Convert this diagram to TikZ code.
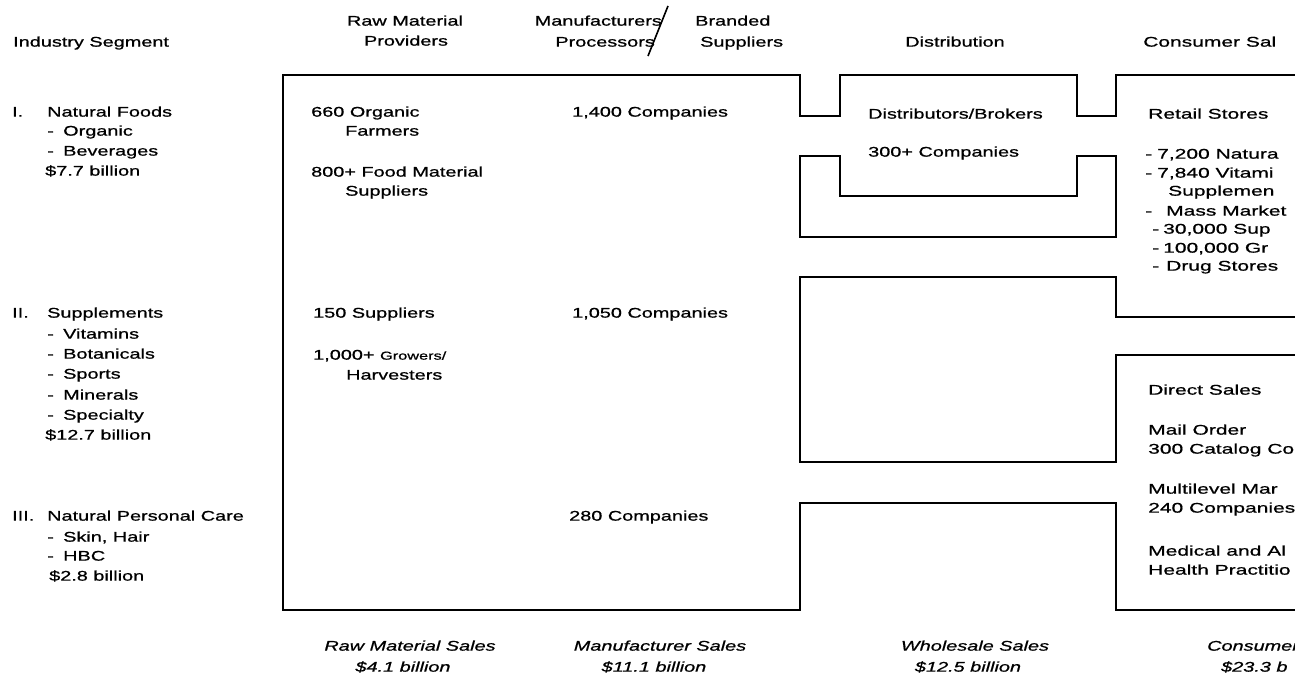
\documentclass[tikz,border=0pt]{standalone}
\usepackage{fontspec}
\setmainfont{Liberation Sans}[FakeStretch=1.42, FakeBold=0.8]
\newfontfamily\rightfont{Liberation Sans}[FakeStretch=1.5, FakeBold=0.8]
\begin{document}
\begin{tikzpicture}[x=1pt,y=-1pt,
  txt/.style={anchor=mid west, inner sep=0pt, font=\fontsize{14}{16}\selectfont},
  rtxt/.style={anchor=mid west, inner sep=0pt, font=\rightfont\fontsize{14}{16}\selectfont},
  txtc/.style={anchor=mid, inner sep=0pt, font=\fontsize{14}{16}\selectfont},
  txte/.style={anchor=mid east, inner sep=0pt, font=\fontsize{14}{16}\selectfont},
  ital/.style={anchor=mid, inner sep=0pt, font=\fontsize{14}{16}\selectfont\itshape},
  italw/.style={anchor=mid west, inner sep=0pt, font=\fontsize{14}{16}\selectfont\itshape},
  outline/.style={draw=black, line width=1.8pt, line join=miter}]
\useasboundingbox (0,0) rectangle (1295,678);
\clip (0,0) rectangle (1295,678);

% ---------- outlines ----------
\draw[outline] (1300,75) -- (1116,75) -- (1116,116) -- (1077,116) -- (1077,75)
  -- (840,75) -- (840,116) -- (800,116) -- (800,75) -- (283,75) -- (283,610)
  -- (800,610) -- (800,503) -- (1116,503) -- (1116,610) -- (1300,610);
\draw[outline] (800,156) -- (840,156) -- (840,196) -- (1077,196) -- (1077,156)
  -- (1116,156) -- (1116,237) -- (800,237) -- cycle;
\draw[outline] (1300,317) -- (1116,317) -- (1116,277) -- (800,277) -- (800,462)
  -- (1116,462) -- (1116,355) -- (1300,355);

% ---------- headers ----------
\node[txt] (hSeg) at (13,44) {Industry Segment};
\node[txtc] (hRaw1) at (405,23) {Raw Material};
\node[txtc] (hRaw2) at (406,43) {Providers};
\node[txte] (hMan1) at (662,23) {Manufacturers};
\node[txte] (hMan2) at (655,44) {Processors};
\coordinate (slashTop) at (668,6);
\coordinate (slashBot) at (648,56);
\draw[line width=1.6pt] (slashTop) -- (slashBot);
\node[txt] (hBr1) at (695,23) {Branded};
\node[txt] (hBr2) at (700,44) {Suppliers};
\node[txtc] (hDist) at (955,44) {Distribution};
\node[rtxt] (hCons) at (1143,44) {Consumer Sal};

% ---------- segment I ----------
\node[txt] (s1n) at (12,114) {I.};
\node[txt] (s1t) at (47,114) {Natural Foods};
\node[txt] (s1d1) at (47,133) {-};
\node[txt] (s1a) at (63,133) {Organic};
\node[txt] (s1d2) at (47,153) {-};
\node[txt] (s1b) at (63,153) {Beverages};
\node[txt] (s1v) at (45,173) {\$7.7 billion};

% ---------- segment II ----------
\node[txt] (s2n) at (12,315) {II.};
\node[txt] (s2t) at (47,315) {Supplements};
\node[txt] (s2d1) at (47,336) {-};
\node[txt] (s2a) at (63,336) {Vitamins};
\node[txt] (s2d2) at (47,356) {-};
\node[txt] (s2b) at (63,356) {Botanicals};
\node[txt] (s2d3) at (47,376) {-};
\node[txt] (s2c) at (63,376) {Sports};
\node[txt] (s2d4) at (47,397) {-};
\node[txt] (s2e) at (63,397) {Minerals};
\node[txt] (s2d5) at (47,417) {-};
\node[txt] (s2f) at (63,417) {Specialty};
\node[txt] (s2v) at (45,437) {\$12.7 billion};

% ---------- segment III ----------
\node[txt] (s3n) at (12,518) {III.};
\node[txt] (s3t) at (47,518) {Natural Personal Care};
\node[txt] (s3d1) at (47,539) {-};
\node[txt] (s3a) at (63,539) {Skin, Hair};
\node[txt] (s3d2) at (47,558) {-};
\node[txt] (s3b) at (63,558) {HBC};
\node[txt] (s3v) at (49,578) {\$2.8 billion};

% ---------- raw material providers ----------
\node[txt] (r1) at (311,114) {660 Organic};
\node[txt] (r1b) at (345,133) {Farmers};
\node[txt] (r2) at (311,174) {800+ Food Material};
\node[txt] (r2b) at (345,193) {Suppliers};
\node[txt] (r3) at (313,315) {150 Suppliers};
\node[txt] (r4) at (313,357) {1,000+ {\fontsize{11.5}{13}\selectfont Growers/}};
\node[txt] (r4b) at (346,377) {Harvesters};

% ---------- manufacturers ----------
\node[txt] (m1) at (572,114) {1,400 Companies};
\node[txt] (m2) at (572,315) {1,050 Companies};
\node[txt] (m3) at (569,518) {280 Companies};

% ---------- distribution ----------
\node[txt] (d1) at (868,116) {Distributors/Brokers};
\node[txt] (d2) at (868,154) {300+ Companies};

% ---------- consumer sales ----------
\node[rtxt] (c1) at (1148,116) {Retail Stores};
\node[rtxt] (c2d) at (1145,156) {-};
\node[rtxt] (c2) at (1157,156) {7,200 Natura};
\node[rtxt] (c3d) at (1145,175) {-};
\node[rtxt] (c3) at (1157,175) {7,840 Vitami};
\node[rtxt] (c3b) at (1168,193) {Supplemen};
\node[rtxt] (c4d) at (1145,213) {-};
\node[rtxt] (c4) at (1166,213) {Mass Market};
\node[rtxt] (c5d) at (1152,231) {-};
\node[rtxt] (c5) at (1163,231) {30,000 Sup};
\node[rtxt] (c6d) at (1152,250) {-};
\node[rtxt] (c6) at (1163,250) {100,000 Gr};
\node[rtxt] (c7d) at (1152,268) {-};
\node[rtxt] (c7) at (1166,268) {Drug Stores};
\node[rtxt] (c8) at (1148,392) {Direct Sales};
\node[rtxt] (c9) at (1148,432) {Mail Order};
\node[rtxt] (c9b) at (1148,451) {300 Catalog Co};
\node[rtxt] (c10) at (1148,491) {Multilevel Mar};
\node[rtxt] (c10b) at (1148,510) {240 Companies};
\node[rtxt] (c11) at (1148,553) {Medical and Al};
\node[rtxt] (c11b) at (1148,572) {Health Practitio};

% ---------- bottom sales ----------
\node[ital] (b1) at (410,648) {Raw Material Sales};
\node[ital] (b1v) at (403,669) {\$4.1 billion};
\node[ital] (b2) at (660,648) {Manufacturer Sales};
\node[ital] (b2v) at (654,669) {\$11.1 billion};
\node[ital] (b3) at (975,648) {Wholesale Sales};
\node[ital] (b3v) at (968,669) {\$12.5 billion};
\node[italw] (b4) at (1207,648) {Consumer};
\node[italw] (b4v) at (1221,669) {\$23.3 b};
\end{tikzpicture}
\end{document}
